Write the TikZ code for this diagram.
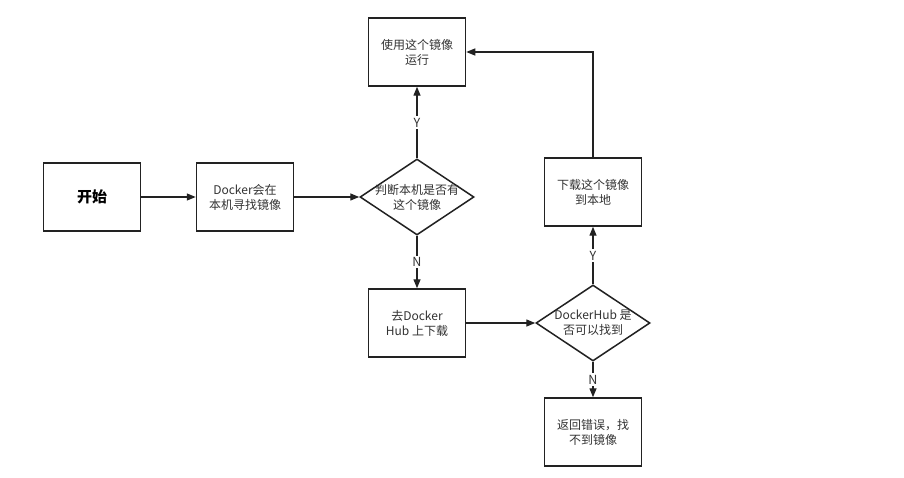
\documentclass[tikz,border=0pt]{standalone}
\usepackage{fontspec}
\setmainfont{Noto Sans CJK SC}
\usetikzlibrary{shapes.geometric,arrows.meta}

\definecolor{txtgray}{HTML}{333333}
\definecolor{linegray}{HTML}{222222}

\tikzset{
    box/.style = {draw=linegray, line width=1.5pt, minimum width=97pt, minimum height=68pt,
                  inner sep=0pt, align=center, text=txtgray, font={\fontsize{12}{15}\selectfont}},
    decision/.style = {draw=linegray, line width=1.5pt, diamond, minimum width=114pt,
                  minimum height=76pt, inner sep=0pt},
    txt/.style = {align=center, text=txtgray, font={\fontsize{12}{15}\selectfont}},
    arr/.style = {draw=linegray, line width=1.4pt, -{Triangle[length=9pt,width=7pt]}},
    yn/.style = {midway, fill=white, inner sep=1.5pt, text=txtgray, font={\fontsize{12.5}{14}\selectfont}}
}

\begin{document}
\begin{tikzpicture}[x=1pt, y=-1pt]
            \useasboundingbox[fill=white] (0, 0) rectangle (904, 478);

            % boxes
            \node[box, font = {\fontsize{15}{18}\selectfont\bfseries}, text=black] (start) at (92, 197) {开始};
            \node[box] (search) at (245, 197) {Docker会在\\本机寻找镜像};
            \node[decision] (haslocal) at (417, 197) {};
            \node[txt] (haslocaltxt) at (haslocal) {判断本机是否有\\这个镜像};
            \node[box] (run) at (417, 52) {使用这个镜像\\运行};
            \node[box] (pull) at (417, 323) {去Docker\\Hub 上下载};
            \node[decision] (found) at (593, 323) {};
            \node[txt] (foundtxt) at (found) {DockerHub 是\\否可以找到};
            \node[box] (fetch) at (593, 192) {下载这个镜像\\到本地};
            \node[box] (error) at (593, 432) {返回错误，找\\不到镜像};

            % arrows
            \draw[arr] (start) -- (search);
            \draw[arr] (search) -- (haslocal.west);
            \draw[arr] (haslocal.north) -- node[yn] {Y} (run);
            \draw[arr] (haslocal.south) -- node[yn] {N} (pull);
            \draw[arr] (pull) -- (found.west);
            \draw[arr] (found.north) -- node[yn] {Y} (fetch);
            \draw[arr] (found.south) -- node[yn] {N} (error);
            \draw[arr] (fetch.north) |- (run.east);
        \end{tikzpicture}
\end{document}
